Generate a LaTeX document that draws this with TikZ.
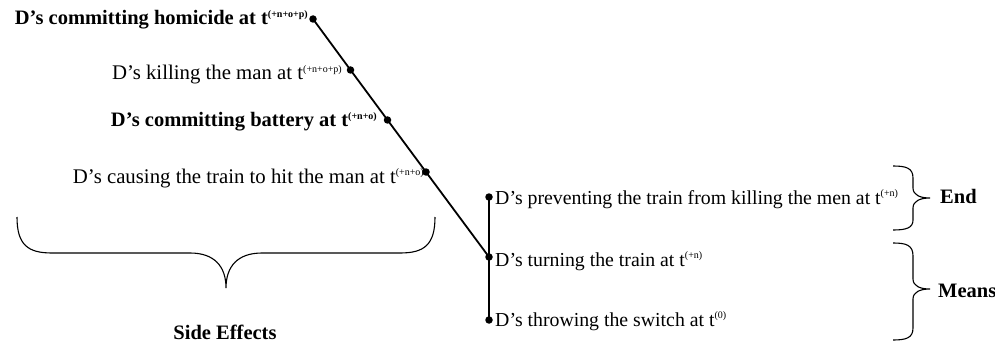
\documentclass[tikz,border=0pt]{standalone}
\usepackage{fontspec}
\setmainfont{Liberation Serif}
\newcommand\tsup[1]{\raisebox{7.5pt}{\fontsize{10}{10}\selectfont #1}}
\begin{document}
\begin{tikzpicture}[x=1pt,y=-1pt,
  dot/.style={circle,fill=black,inner sep=0pt,minimum size=7.5pt},
  lbl/.style={inner sep=0pt,font=\fontsize{20.8}{22}\selectfont},
  rlbl/.style={inner sep=0pt,font=\fontsize{19.8}{22}\selectfont},
  blbl/.style={inner sep=0pt,font=\fontsize{20.5}{22}\selectfont\bfseries},
  link/.style={line width=1.8pt},
  bracepath/.style={line width=1.1pt}]
\useasboundingbox (0,0) rectangle (995,342);
% dots
\node[dot] (dh) at (313,19) {};
\node[dot] (dk) at (350.5,70) {};
\node[dot] (db) at (387.5,120) {};
\node[dot] (dc) at (426,172) {};
\node[dot] (dp) at (489,197) {};
\node[dot] (dt) at (489,257) {};
\node[dot] (dw) at (489,320) {};
% connectors
\draw[link] (dh.center) -- (dk.center) -- (db.center) -- (dc.center) -- (dt.center);
\draw[link] (dp.center) -- (dt.center) -- (dw.center);
% left labels
\node[blbl,anchor=base east] (th) at (308,25) {D's committing homicide at t\tsup{(+n+o+p)}};
\node[lbl,anchor=base east] (tk) at (342,80) {D’s killing the man at t\tsup{(+n+o+p)}};
\node[blbl,anchor=base east] (tb) at (377,127) {D's committing battery at t\tsup{(+n+o)}};
\node[lbl,anchor=base east] (tc) at (424,183) {D’s causing the train to hit the man at t\tsup{(+n+o)}};
% right labels
\node[rlbl,anchor=base west] (tp) at (495,204) {D’s preventing the train from killing the men at t\tsup{(+n)}};
\node[rlbl,anchor=base west] (tt) at (495,266) {D’s turning the train at t\tsup{(+n)}};
\node[rlbl,anchor=base west] (tw) at (495,326) {D’s throwing the switch at t\tsup{(0)}};
% side effects brace
\draw[bracepath] (17,217) .. controls (17,245) and (28,253) .. (52,253)
  -- (190,253) .. controls (214,253) and (226,266) .. (226,288)
  .. controls (226,266) and (238,253) .. (262,253)
  -- (400,253) .. controls (424,253) and (435,245) .. (435,217);
\node[blbl,anchor=base] (se) at (225,339) {Side Effects};
% end brace
\draw[bracepath] (893,166) .. controls (906,166) and (913,168) .. (913,178)
  -- (913,188) .. controls (913,195) and (920,198) .. (930,198)
  .. controls (920,198) and (913,201) .. (913,208)
  -- (913,220) .. controls (913,228) and (906,230) .. (893,230);
\node[blbl,anchor=base west] (en) at (940,203) {End};
% means brace
\draw[bracepath] (893,243) .. controls (906,243) and (913,245) .. (913,256)
  -- (913,279) .. controls (913,286) and (920,289) .. (930,289)
  .. controls (920,289) and (913,292) .. (913,299)
  -- (913,328) .. controls (913,338) and (906,340) .. (893,340);
\node[blbl,anchor=base west] (me) at (938,297) {Means};
\end{tikzpicture}
\end{document}
